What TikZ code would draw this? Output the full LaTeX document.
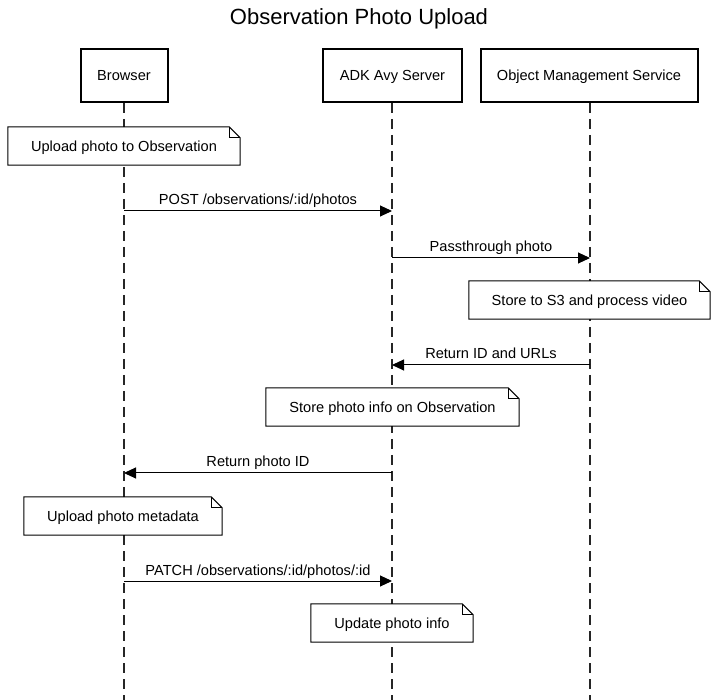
\documentclass[tikz,border=0pt]{standalone}
\usepackage{fontspec}
\setmainfont{Liberation Sans}
\usetikzlibrary{arrows.meta,backgrounds}
\tikzset{
  txt/.style={font=\fontsize{14.6}{17}\selectfont},
  actor/.style={txt, draw, line width=2pt, fill=white, minimum height=53pt, inner sep=0pt, text height=11.5pt, text depth=0.5pt},
  lifeline/.style={line width=1.5pt, dash pattern=on 10pt off 6pt, draw=black!85},
  msg/.style={line width=1pt, -{Triangle[length=12pt,width=11pt]}},
  msglabel/.style={txt, anchor=base, inner sep=0pt},
  notebox/.style={txt, fill=white, minimum height=38pt, inner sep=0pt, text height=11.5pt, text depth=0.5pt},
  noteline/.style={line width=1pt, line join=miter}
}
\newcommand\drawnote[1]{%
  \draw[noteline] (#1.north west) -- ([xshift=-11pt]#1.north east) -- ([yshift=-11pt]#1.north east) -- (#1.south east) -- (#1.south west) -- cycle;
  \draw[noteline] ([xshift=-11pt]#1.north east) -- ([xshift=-11pt,yshift=-11pt]#1.north east) -- ([yshift=-11pt]#1.north east);}
\begin{document}
\begin{tikzpicture}[x=1pt,y=-1pt]
\useasboundingbox (0,0) rectangle (718,700);
\node[font=\fontsize{22}{26}\selectfont] (title) at (359,19) {Observation Photo Upload};
% actors
\node[actor, minimum width=87pt] (br) at (124,75.5) {Browser};
\node[actor, minimum width=139pt] (adk) at (392.5,75.5) {ADK Avy Server};
\node[actor, minimum width=217pt] (oms) at (589,75.5) {Object Management Service};
\coordinate (brEnd) at (124,700);
\coordinate (adkEnd) at (392,700);
\coordinate (omsEnd) at (590,700);
\begin{scope}[on background layer]
\draw[lifeline] (br.south) -- (brEnd);
\draw[lifeline] ([xshift=-0.5pt]adk.south) -- (adkEnd);
\draw[lifeline] ([xshift=1pt]oms.south) -- (omsEnd);
\end{scope}
% lifeline anchor points
\coordinate (b1) at (124,211); \coordinate (a1) at (392,211);
\coordinate (a2) at (392,258); \coordinate (o2) at (590,258);
\coordinate (o3) at (590,365); \coordinate (a3) at (392,365);
\coordinate (a4) at (392,473); \coordinate (b4) at (124,473);
\coordinate (b5) at (124,581); \coordinate (a5) at (392,581);
% note 1
\node[notebox, minimum width=232pt] (n1) at (124,146) {Upload photo to Observation};
\drawnote{n1}
% msg 1
\draw[msg] (b1) -- (a1);
\node[msglabel] (l1) at (258,205) {POST /observations/:id/photos};
% msg 2
\draw[msg] (a2) -- (o2);
\node[msglabel] (l2) at (491,252) {Passthrough photo};
% note 2
\node[notebox, minimum width=241pt] (n2) at (589.5,300) {Store to S3 and process video};
\drawnote{n2}
% msg 3
\draw[msg] (o3) -- (a3);
\node[msglabel] (l3) at (491,359) {Return ID and URLs};
% note 3
\node[notebox, minimum width=253pt] (n3) at (392.5,407) {Store photo info on Observation};
\drawnote{n3}
% msg 4
\draw[msg] (a4) -- (b4);
\node[msglabel] (l4) at (258,467) {Return photo ID};
% note 4
\node[notebox, minimum width=198pt] (n4) at (123,516) {Upload photo metadata};
\drawnote{n4}
% msg 5
\draw[msg] (b5) -- (a5);
\node[msglabel] (l5) at (258,575) {PATCH /observations/:id/photos/:id};
% note 5
\node[notebox, minimum width=162pt] (n5) at (392,623) {Update photo info};
\drawnote{n5}
\end{tikzpicture}
\end{document}
